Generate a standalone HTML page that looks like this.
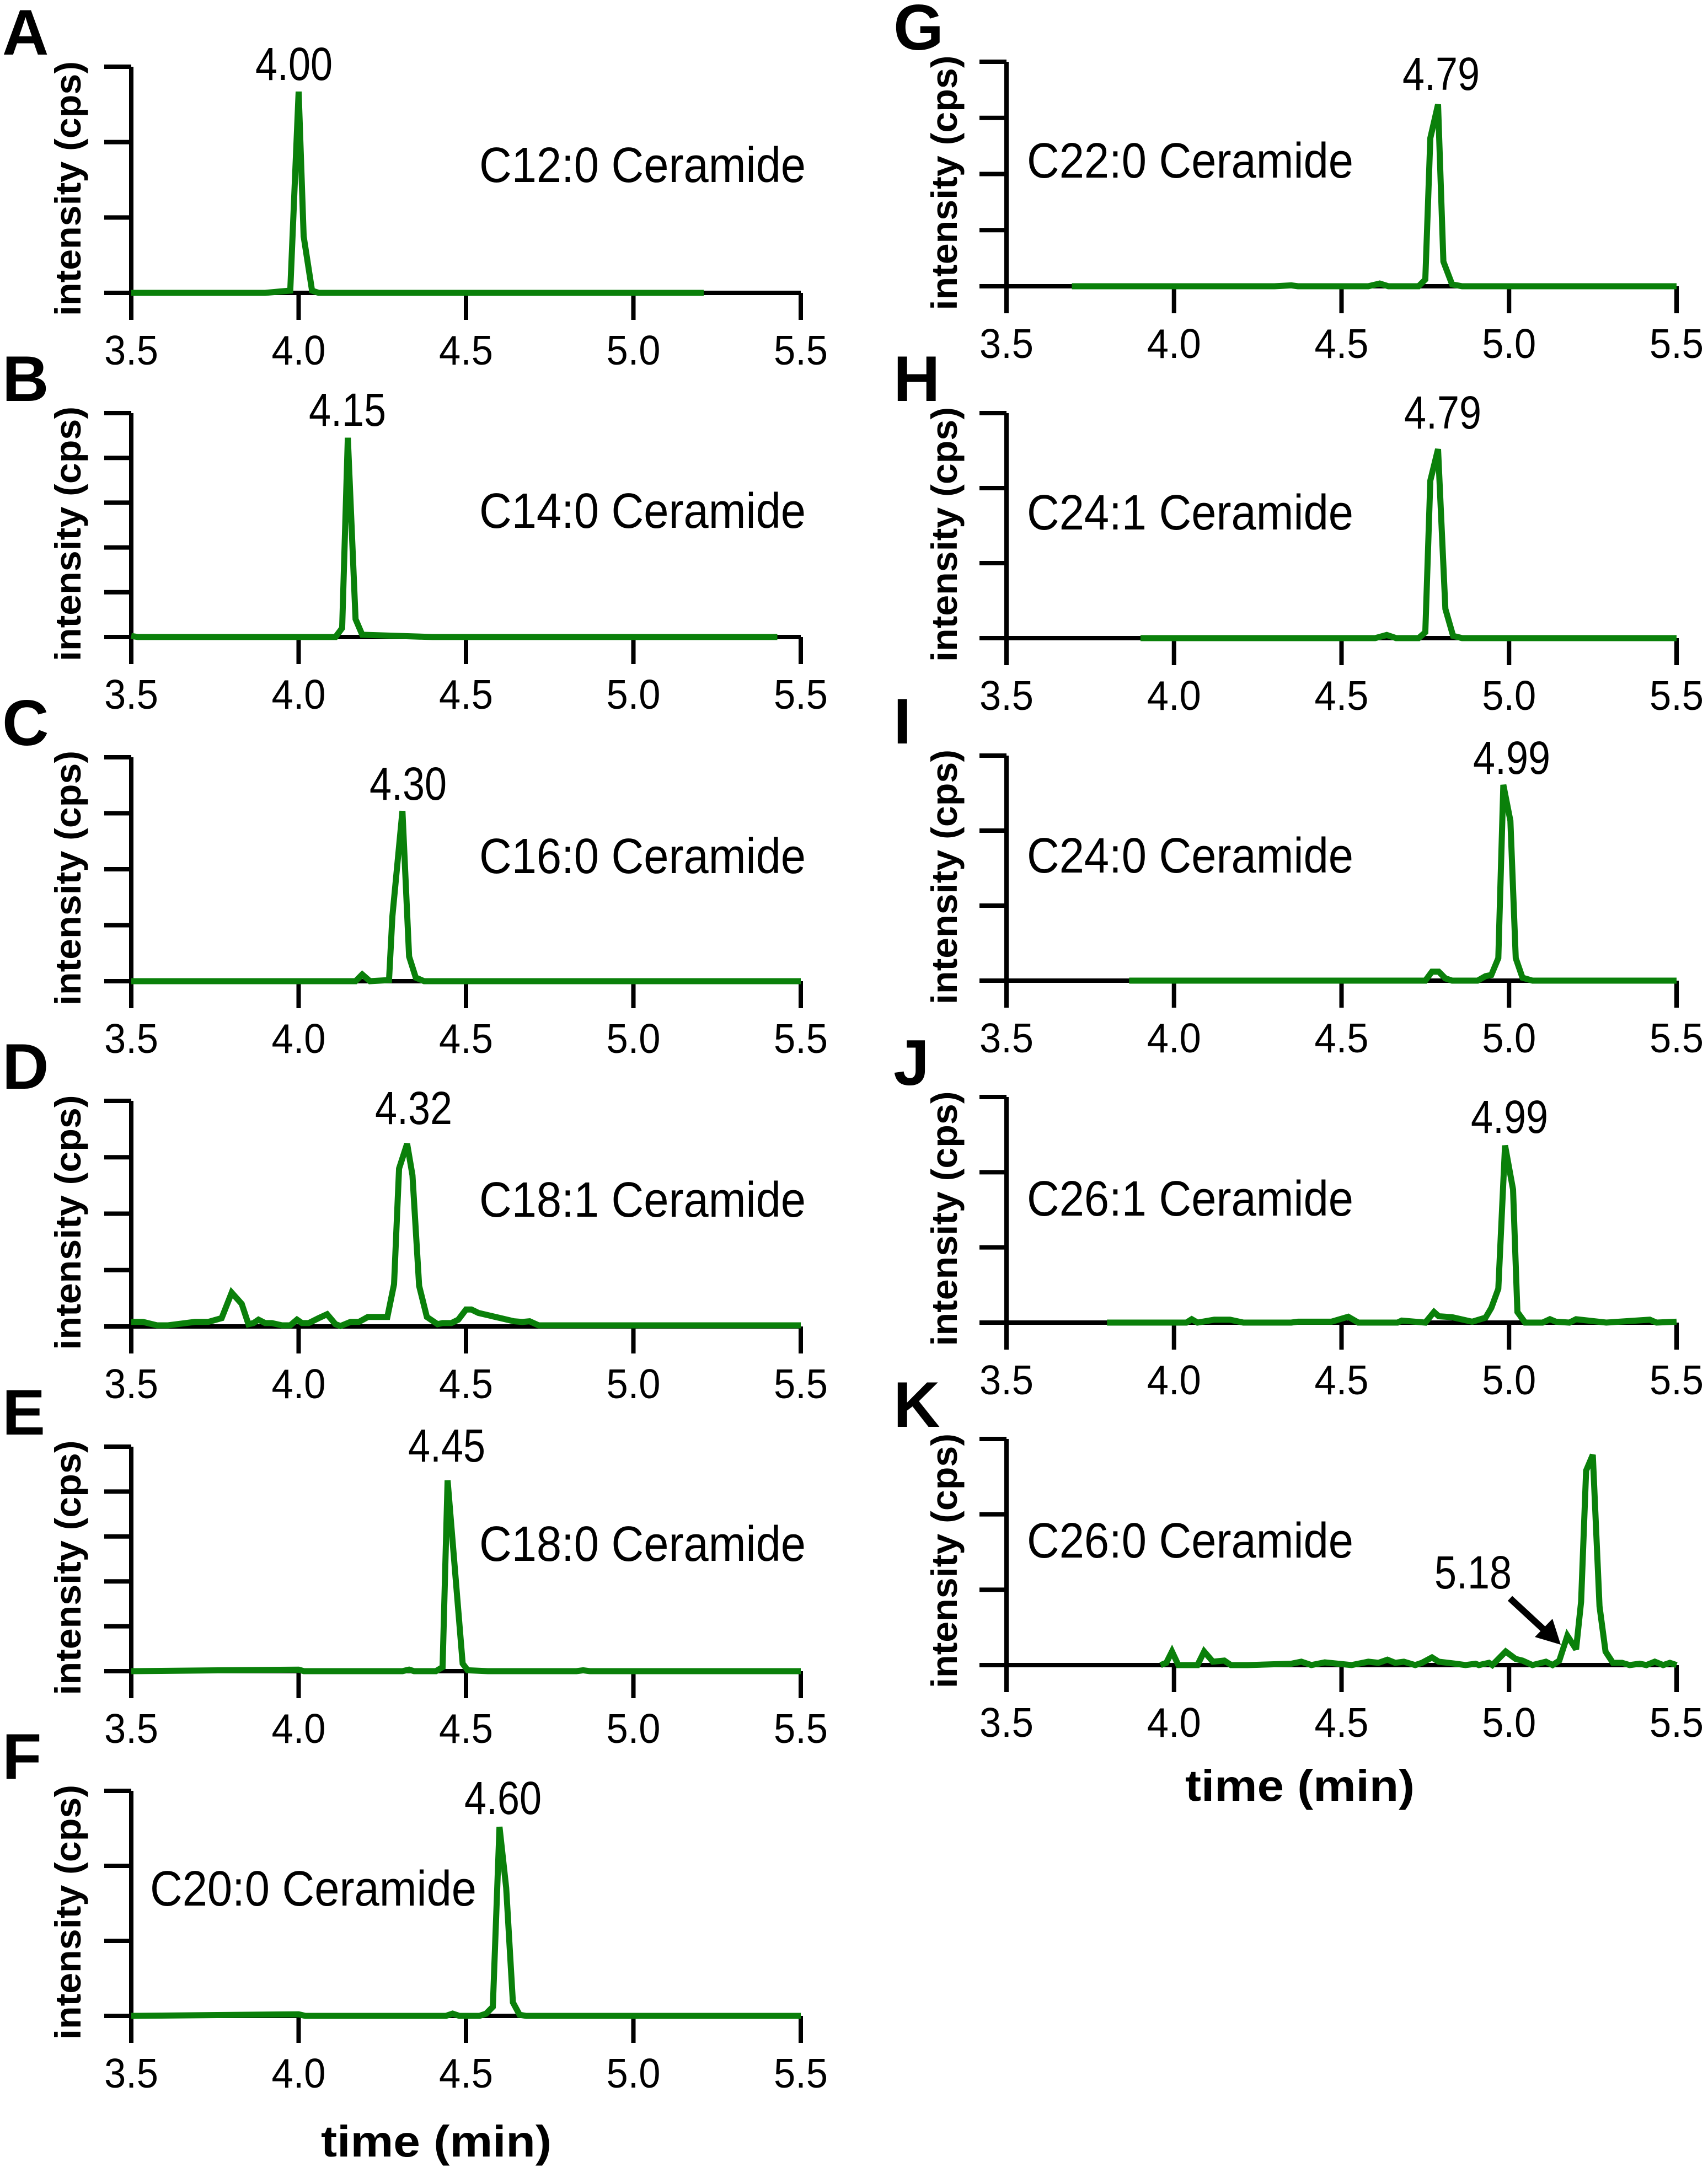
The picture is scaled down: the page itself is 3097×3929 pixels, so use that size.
<!DOCTYPE html>
<html><head><meta charset="utf-8"><style>
html,body{margin:0;padding:0;background:#fff;}
svg{display:block;}
text{font-family:"Liberation Sans",Arial,sans-serif;fill:#000;}
</style></head><body>
<svg id="fig" xmlns="http://www.w3.org/2000/svg" width="3097" height="3929" viewBox="0 0 3097 3929"></svg>
<script>
// ---- data (time in min, intensity as fraction of top tick) ----
const tA=[3.5,3.9,3.975,4.0,4.015,4.04,4.06,5.21];
const vA=[0,0,0.01,0.89,0.25,0.01,0,0];
const tB=[3.5,3.52,3.8,4.11,4.13,4.147,4.17,4.19,4.4,5.43];
const vB=[0.005,0,0,0,0.04,0.89,0.08,0.01,0,0];
const tC=[3.5,4.17,4.19,4.213,4.27,4.28,4.31,4.33,4.35,4.375,5.5];
const vC=[0,0,0.03,0,0.005,0.29,0.76,0.11,0.016,0,0];
const tD=[3.5,3.535,3.577,3.61,3.69,3.73,3.77,3.8,3.83,3.85,3.865,3.88,3.9,3.92,3.95,3.975,3.995,4.01,4.03,4.06,4.085,4.11,4.125,4.155,4.18,4.207,4.265,4.285,4.3,4.324,4.34,4.36,4.383,4.415,4.43,4.456,4.477,4.5,4.516,4.537,4.643,4.668,4.69,4.717,5.5];
const vD=[0.02,0.02,0.005,0.005,0.02,0.02,0.037,0.15,0.1,0.01,0.015,0.03,0.015,0.015,0.005,0.005,0.03,0.015,0.015,0.037,0.054,0.01,0.002,0.02,0.02,0.042,0.042,0.187,0.70,0.81,0.67,0.18,0.042,0.01,0.015,0.015,0.03,0.075,0.075,0.06,0.023,0.02,0.023,0.005,0.005];
const tE=[3.5,4.0,4.016,4.31,4.33,4.345,4.41,4.43,4.445,4.49,4.505,4.565,4.83,4.85,4.87,5.5];
const vE=[0,0.007,0,0,0.007,0,0,0.018,0.85,0.034,0.004,0,0,0.004,0,0];
const tF=[3.5,4.0,4.02,4.44,4.46,4.48,4.54,4.56,4.58,4.6,4.62,4.64,4.66,4.68,5.5];
const vF=[0,0.007,0,0,0.01,0,0,0.01,0.04,0.84,0.57,0.06,0.005,0,0];
const tG=[3.695,4.3,4.35,4.37,4.58,4.614,4.64,4.73,4.75,4.765,4.788,4.804,4.83,4.86,5.5];
const vG=[0,0,0.004,0,0,0.012,0,0,0.03,0.66,0.81,0.11,0.008,0,0];
const tH=[3.9,4.6,4.635,4.663,4.73,4.75,4.765,4.788,4.81,4.833,4.86,5.5];
const vH=[0,0,0.014,0,0,0.026,0.7,0.84,0.13,0.01,0,0];
const tI=[3.866,4.75,4.77,4.79,4.81,4.83,4.906,4.93,4.947,4.968,4.983,5.004,5.02,5.04,5.07,5.5];
const vI=[0,0,0.04,0.04,0.01,0,0,0.02,0.025,0.1,0.87,0.71,0.1,0.013,0,0];
const tJ=[3.8,4.037,4.053,4.07,4.12,4.167,4.207,4.35,4.37,4.47,4.52,4.55,4.667,4.68,4.75,4.776,4.79,4.83,4.89,4.93,4.947,4.968,4.988,5.012,5.025,5.048,5.1,5.122,5.14,5.18,5.2,5.29,5.42,5.44,5.5];
const vJ=[0,0,0.015,0,0.013,0.013,0,0,0.004,0.004,0.026,0,0,0.009,0,0.047,0.028,0.024,0.004,0.022,0.065,0.15,0.785,0.59,0.047,0,0,0.015,0.004,0,0.015,0,0.013,0,0.004];
const tK=[3.96,3.977,3.994,4.013,4.034,4.07,4.09,4.116,4.15,4.17,4.22,4.35,4.38,4.41,4.45,4.53,4.58,4.61,4.637,4.66,4.686,4.72,4.74,4.77,4.79,4.84,4.87,4.9,4.91,4.94,4.95,4.99,5.02,5.04,5.07,5.11,5.13,5.15,5.174,5.2,5.215,5.23,5.25,5.27,5.288,5.31,5.337,5.36,5.39,5.41,5.435,5.46,5.48,5.5];
const vK=[0,0.01,0.06,0,0,0,0.06,0.015,0.02,0,0,0.006,0.015,0,0.012,0,0.015,0.01,0.024,0.01,0.015,0,0.01,0.034,0.015,0.006,0,0.006,0,0.01,0,0.06,0.027,0.02,0,0.015,0,0.02,0.13,0.07,0.28,0.86,0.93,0.26,0.06,0.01,0.01,0,0.006,0,0.015,0,0.01,0];
const xTickVals=[3.5,4.0,4.5,5.0,5.5];
const xTickLabels=["3.5","4.0","4.5","5.0","5.5"];
const panelLetters=["A","B","C","D","E","F","G","H","I","J","K"];
const compounds=["C12:0 Ceramide","C14:0 Ceramide","C16:0 Ceramide","C18:1 Ceramide","C18:0 Ceramide","C20:0 Ceramide","C22:0 Ceramide","C24:1 Ceramide","C24:0 Ceramide","C26:1 Ceramide","C26:0 Ceramide"];
const peakLabels=["4.00","4.15","4.30","4.32","4.45","4.60","4.79","4.79","4.99","4.99","5.18"];
const yTickCounts=[3,5,4,4,5,3,4,3,3,3,3];
const seriesT=[tA,tB,tC,tD,tE,tF,tG,tH,tI,tJ,tK];
const seriesV=[vA,vB,vC,vD,vE,vF,vG,vH,vI,vJ,vK];

// ---- layout ----
const L={x0:238,x1:1452,lx:4,ylx:146,cx:869};
const R={x0:1825,x1:3040,lx:1620,ylx:1735,cx:1862};
const layout=[
 {c:L,base:531,top:121,px:533,py:145,cy:330},
 {c:L,base:1155,top:749,px:630,py:772,cy:957},
 {c:L,base:1779,top:1373,px:740,py:1450,cy:1583},
 {c:L,base:2405,top:1996,px:750,py:2038,cy:2206},
 {c:L,base:3030,top:2623,px:810,py:2650,cy:2830},
 {c:L,base:3655,top:3247,px:912,py:3289,cy:3455,cx:272},
 {c:R,base:519,top:112,px:2613,py:163,cy:322},
 {c:R,base:1157,top:749,px:2616,py:777,cy:960},
 {c:R,base:1778,top:1370,px:2741,py:1403,cy:1582},
 {c:R,base:2398,top:1989,px:2737,py:2054,cy:2204},
 {c:R,base:3019,top:2609,px:2671,py:2880,cy:2824}
];
const NS="http://www.w3.org/2000/svg";
const svg=document.getElementById('fig');
function mk(tag,attrs,parent,txt){const e=document.createElementNS(NS,tag);for(const k in attrs)e.setAttribute(k,attrs[k]);if(txt!==undefined)e.textContent=txt;(parent||svg).appendChild(e);return e;}

layout.forEach((p,i)=>{
  const c=p.c;
  const xs=t=>c.x0+(t-3.5)/2*(c.x1-c.x0);
  const ys=v=>p.base-v*(p.base-p.top);
  const g=mk('g',{});
  
  
  const ax=mk('path',{d:`M${c.x0},${p.top} V${p.base+49} M${c.x0-49},${p.base} H${c.x1}`,stroke:'#000','stroke-width':8,fill:'none'},g);
  
  
  for(let k=1;k<=yTickCounts[i];k++){
    const y=p.base-k*(p.base-p.top)/yTickCounts[i];
    const tk=mk('line',{x1:c.x0-49,x2:c.x0,y1:y,y2:y,stroke:'#000','stroke-width':8},g);
    
    
  }
  xTickVals.forEach((tv,k)=>{
    const x=xs(tv);
    const tk=mk('line',{x1:x,x2:x,y1:p.base,y2:p.base+49,stroke:'#000','stroke-width':8},g);
    
    
    const tl=mk('text',{x:x,y:p.base+130,'text-anchor':'middle','font-size':75,textLength:98,lengthAdjust:'spacingAndGlyphs'},g,xTickLabels[k]);
    
    
  });
  const T=seriesT[i],V=seriesV[i];
  const d=T.map((t,k)=>(k?'L':'M')+xs(t).toFixed(1)+','+ys(V[k]).toFixed(1)).join(' ');
  const ln=mk('path',{d:d,stroke:'#0a800a','stroke-width':11,fill:'none','stroke-linejoin':'miter','stroke-miterlimit':3},g);
  
  
  const lt=mk('text',{x:c.lx,y:p.top-22,'font-size':117,'font-weight':'bold'},g,panelLetters[i]);
  
  
  const ycy=(p.top+p.base)/2+16;
  const yl=mk('text',{x:0,y:0,transform:`translate(${c.ylx},${ycy}) rotate(-90)`,'text-anchor':'middle','font-size':66,'font-weight':'bold',textLength:462,lengthAdjust:'spacingAndGlyphs'},g,'intensity (cps)');
  
  
  const cl=mk('text',{x:p.cx||c.cx,y:p.cy,'font-size':90,textLength:592,lengthAdjust:'spacingAndGlyphs'},g,compounds[i]);
  
  
  const pl=mk('text',{x:p.px,y:p.py,'text-anchor':'middle','font-size':84,textLength:140,lengthAdjust:'spacingAndGlyphs'},g,peakLabels[i]);
  
  
});
const arr=mk('g',{});


mk('line',{x1:2738,y1:2898,x2:2805,y2:2960,stroke:'#000','stroke-width':12},arr);
mk('polygon',{points:'2830,2982 2815,2935 2783,2968',fill:'#000'},arr);
const t1=mk('text',{x:791,y:3910,'text-anchor':'middle','font-size':80,'font-weight':'bold',textLength:418,lengthAdjust:'spacingAndGlyphs'},svg,'time (min)');


const t2=mk('text',{x:2357,y:3265,'text-anchor':'middle','font-size':80,'font-weight':'bold',textLength:416,lengthAdjust:'spacingAndGlyphs'},svg,'time (min)');


</script>
</body></html>
